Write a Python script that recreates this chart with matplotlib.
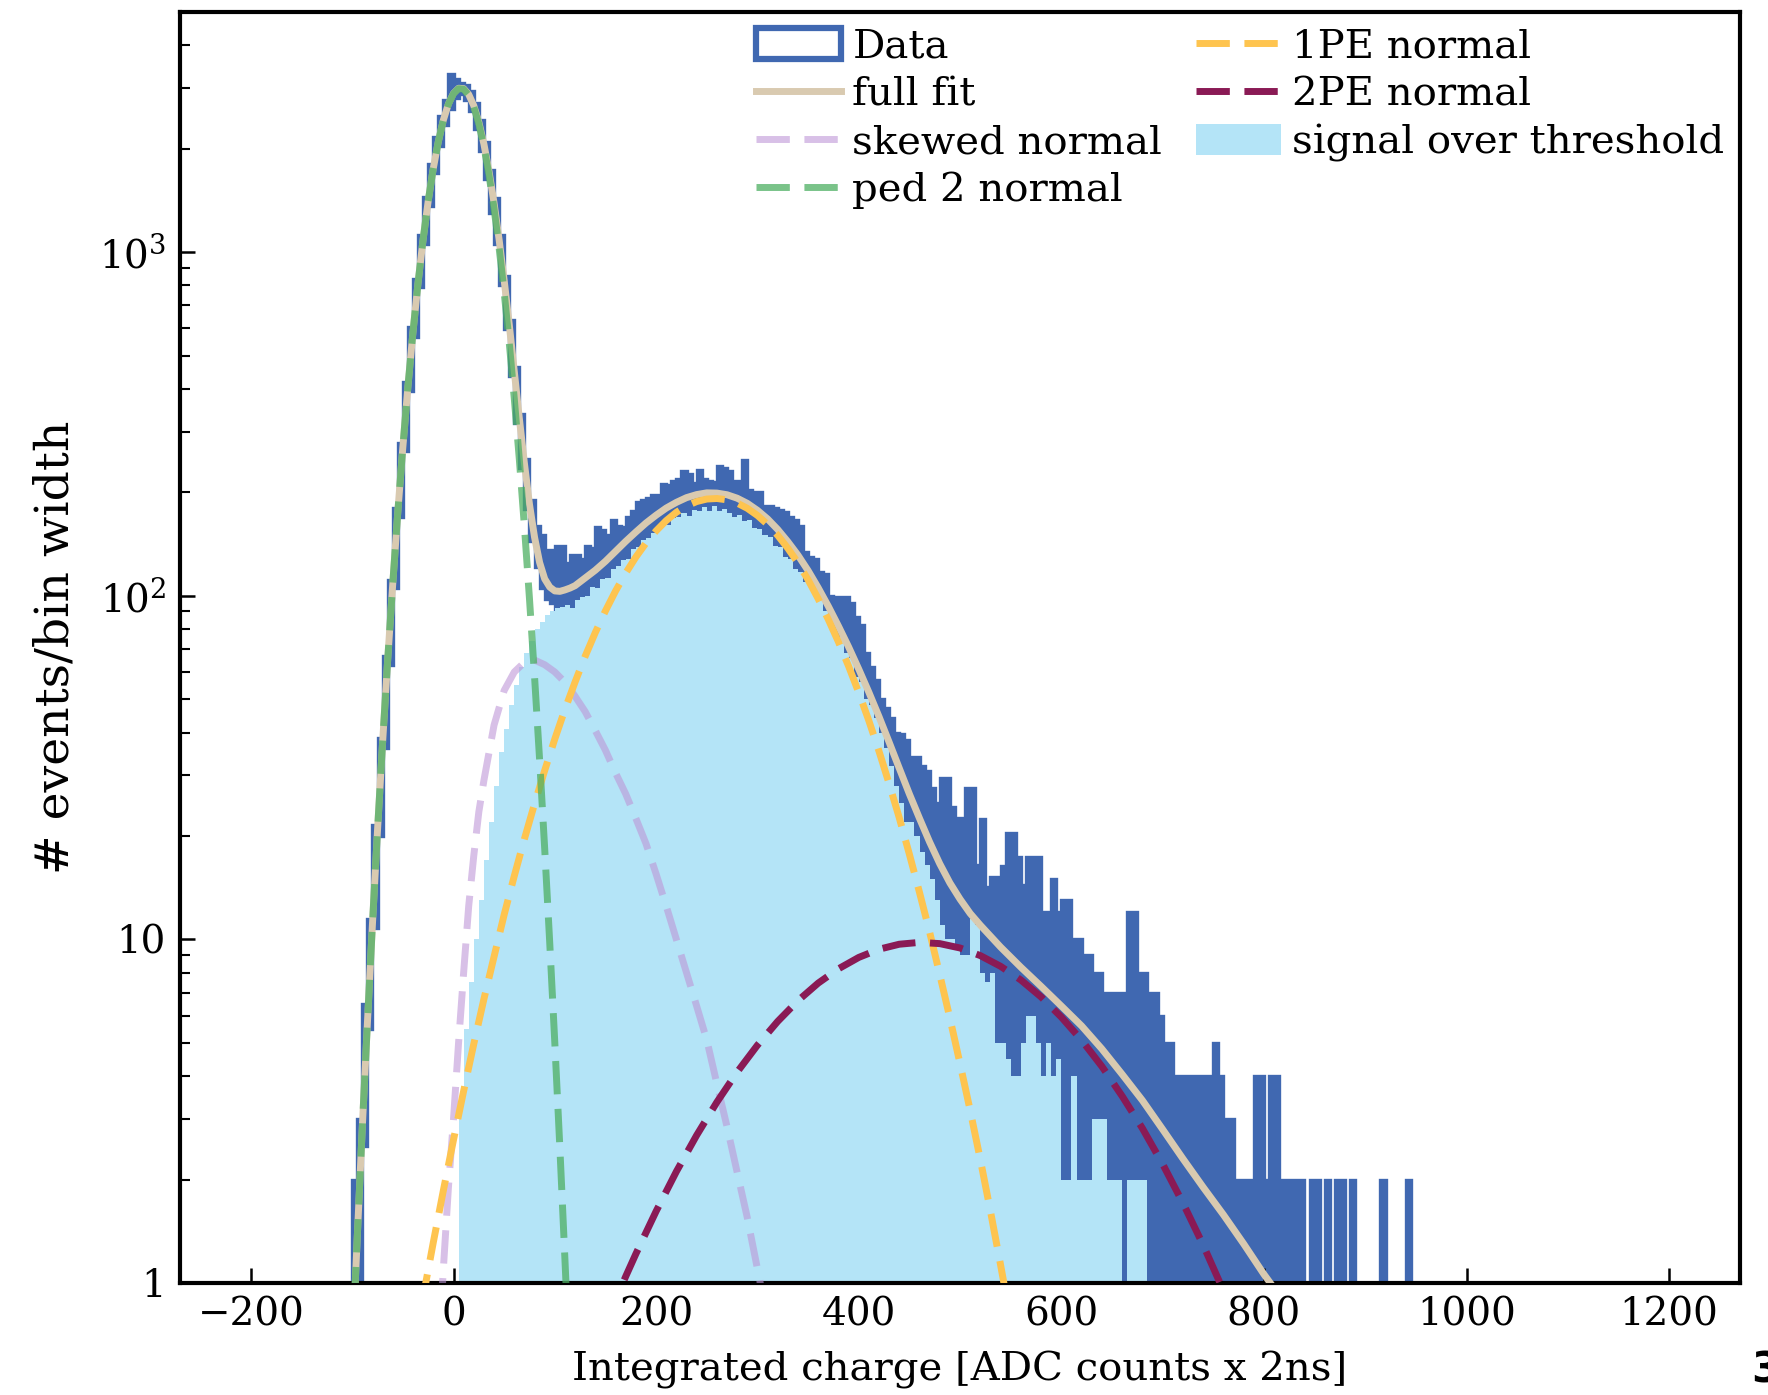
## Charge spectrum with fit components (log scale)

import numpy as np
import matplotlib.pyplot as plt
from matplotlib.patches import Patch

## data

# data histogram, 5-unit bins from -110 to 960: upper envelope and lower edge of the band
hist_edges = np.arange(-110, 965, 5)
data_high = [
    1, 1, 2, 3, 6.5, 11.5, 21.5, 38.5, 67, 111,
    180, 279, 418, 604, 838, 1123, 1450, 1803, 2160, 2495,
    2780, 3300, 3200, 3100, 3070, 2947, 2726, 2432, 2090, 1730,
    1434, 1122, 854, 636, 464, 338, 250, 190, 160, 150,
    136, 136, 140, 140, 124.5, 131, 131, 128, 140, 138,
    159, 155, 150, 166, 160, 159, 170, 176, 188, 190,
    192, 196, 197, 212, 210, 216, 218, 230, 226, 213,
    232, 219, 216, 214, 238, 236, 230, 216, 216, 248,
    203, 201, 201, 182, 182, 180, 178, 175, 170, 166,
    160, 134, 130, 128, 117.5, 116, 100, 99, 99, 99,
    95, 87, 82, 68, 62, 57, 50, 47, 44, 40,
    39.6, 38, 34, 34, 32, 31, 27.5, 25, 29.5, 29.5,
    24.3, 22.5, 22.5, 27.6, 27.6, 16.5, 22.4, 14.2, 15.2, 15.2,
    16.3, 20.4, 20.4, 17.4, 14.4, 17.4, 17.4, 17.4, 12, 12,
    15, 12, 13, 13, 10, 10, 9, 9, 8, 8,
    7, 7, 7, 7, 7, 12, 12, 8, 8, 7,
    7, 6, 5, 5, 4, 4, 4, 4, 4, 4,
    4, 4, 5, 4, 3, 3, 2, 2, 2, 2,
    4, 4, 2, 4, 4, 2, 2, 2, 2, 2,
    1, 2, 2, 1, 2, 1, 2, 2, 1, 2,
    1, 1, 1, 1, 1, 2, 1, 1, 1, 1,
    2, 1, 1, 1,
]
# lower edge of the data band in the pedestal region (-110 .. 100)
ped_low = [
    1, 1, 1, 1, 2.5, 5.5, 10.8, 20, 36, 63,
    105, 170, 263, 394, 568, 790, 1057, 1365, 1697, 2034,
    2350, 2616, 2806, 2890, 2775, 2568, 2290, 1968, 1630, 1300,
    1056, 804, 598, 436, 318, 236, 179, 144, 121, 105,
    98, 95,
]
data_low = np.concatenate([ped_low, np.ones(len(data_high) - len(ped_low))])

# signal over threshold, 5-unit bins from 5 to 695
sig_edges = np.arange(5, 700, 5)
signal = [
    3.5, 5.5, 7.5, 10, 13, 17, 22, 28, 35, 41,
    48, 55, 62, 68, 74, 80, 84, 88, 90, 92,
    93, 94, 92, 97, 99, 100, 106, 105, 112, 113,
    120, 122, 127, 128, 137, 139, 145, 147, 152, 155,
    163, 161, 168, 170, 174, 171, 178, 176, 181, 177,
    182, 176, 179, 174, 170, 172, 165, 166, 158, 156,
    150, 148, 140, 139, 130, 128, 120, 117, 110, 107,
    100, 97, 90, 86, 78, 76, 68, 66, 58, 56,
    50, 48, 44, 40, 36, 32, 28, 25, 22, 22,
    20, 18, 16.5, 15, 13, 11, 10, 10, 9.5, 9,
    9, 11.5, 11, 8, 7.5, 8, 5, 5, 4.5, 4,
    4, 5, 6, 6, 5, 4, 5, 4, 4.5, 2,
    2, 4, 2, 2, 2, 3, 3, 3, 2, 2,
    2, 1, 2, 2, 2, 2, 1, 1,
]

# fit curves
fit_x = [-110, -105, -100, -95, -90, -85, -80, -75, -70, -65, -60, -55, -50, -45, -40,
         -35, -30, -25, -20, -15, -10, -5, 0, 5, 10, 15, 20, 25, 30, 35, 40, 45, 50,
         55, 60, 65, 70, 75, 80, 85, 90, 95, 100, 105, 110, 115,
         120, 130, 140, 150, 160, 170, 180, 190, 200, 210, 220, 230, 240, 250, 260,
         270, 280, 290, 300, 310, 320, 330, 340, 350, 360, 370, 380, 390, 400, 410,
         420, 430, 440, 450, 460, 470, 480, 490, 500, 510, 520,
         540, 560, 580, 600, 620, 640, 660, 680, 700, 720, 740, 760, 780, 800, 820]
fit_y = [0.12, 0.28, 0.63, 1.36, 2.85, 5.7, 11.1, 20.8, 37.4, 64.9, 108, 175, 271, 406, 586,
         814, 1090, 1407, 1750, 2097, 2425, 2701, 2899, 2999, 2992, 2878, 2670, 2390, 2065, 1723,
         1392, 1089, 829, 617, 450, 328, 243, 184.5, 148, 125, 112, 106, 103.3, 103, 104, 105.3,
         107, 112.7, 118.7, 126, 134.7, 144, 153.3, 162.8, 171.6, 180, 187, 193, 197, 199.3, 199,
         196.8, 192.3, 185.8, 177.3, 167.4, 156, 143.7, 131.3, 118.4, 105.5, 93.2, 81.6, 71, 61.2, 52.4,
         44.5, 37.5, 31.5, 26.5, 22.5, 19.2, 16.6, 14.6, 13.1, 11.9, 11.0,
         9.5, 8.3, 7.3, 6.4, 5.6, 4.8, 4.05, 3.4, 2.8, 2.3, 1.9, 1.58, 1.3, 1.06, 0.88]

skew_x = [-15, -10, -5, 0, 5, 10, 15, 20, 25, 30, 40, 50, 60, 70, 80, 90, 100, 110, 120,
          130, 140, 150, 160, 170, 180, 190, 200, 210, 220, 230, 240, 250, 260, 270, 280,
          290, 300, 310]
skew_y = [0.6, 1.1, 1.9, 3.0, 5.0, 8.0, 12.5, 17.5, 23.5, 29, 42, 53, 60, 64, 65, 63, 60, 56, 51,
          46, 40.5, 35.5, 30.5, 26.5, 22.5, 19, 15.5, 12.5, 10, 8, 6.4, 5.1, 3.8, 2.85, 2.1,
          1.55, 1.1, 0.78]

ped_x = [-110, -105, -100, -95, -90, -85, -80, -75, -70, -65, -60, -55, -50, -45, -40, -35,
         -30, -25, -20, -15, -10, -5, 0, 5, 10, 15, 20, 25, 30, 35, 40, 45, 50, 55, 60, 65,
         70, 75, 80, 85, 90, 95, 100, 105, 110, 115]
ped_y = [0.12, 0.28, 0.63, 1.36, 2.85, 5.7, 11.1, 20.8, 37.4, 64.9, 108, 175, 271, 406, 586, 814,
         1090, 1407, 1750, 2097, 2422, 2697, 2893, 2991, 2980, 2861, 2647, 2361, 2029, 1680, 1341,
         1031, 764, 546, 375, 249, 159, 98, 58.2, 33.3, 18.4, 9.76, 5.0, 2.47, 1.17, 0.54]

pe1_x = [-40, -30, -20, -10, 0, 10, 20, 30, 40, 50, 60, 70, 80, 90, 100, 110, 120, 130, 140,
         150, 160, 170, 180, 190, 200, 210, 220, 230, 240, 250, 260, 270, 280, 290, 300, 310,
         320, 330, 340, 350, 360, 370, 380, 390, 400, 410, 420, 430, 440, 450, 460, 470, 480,
         490, 500, 510, 520, 530, 540, 550]
pe1_y = [0.62, 0.91, 1.31, 1.86, 2.61, 3.62, 4.96, 6.7, 8.9, 11.8, 15.3, 19.6, 24.8, 31.0, 38.3,
         46.7, 56.1, 66.7, 78.2, 90.4, 103.3, 116.4, 129.6, 142.4, 154.5, 165.5, 175, 182.5, 188,
         191.2, 191.9, 190.2, 186.1, 179.7, 171.3, 161.3, 150, 137.5, 124.7, 111.3, 98.0, 85.3,
         73.4, 62.4, 52.3, 43.3, 35.3, 28.4, 22.6, 17.7, 13.7, 10.5, 7.9, 5.9, 4.35, 3.18, 2.29,
         1.62, 1.13, 0.78]

pe2_x = [150, 160, 170, 180, 200, 220, 240, 260, 280, 300, 320, 340, 360, 380, 400, 420, 440,
         460, 480, 500, 520, 540, 560, 580, 600, 620, 640, 660, 680, 700, 720, 740, 760, 780]
pe2_y = [0.76, 0.89, 1.045, 1.215, 1.617, 2.11, 2.69, 3.36, 4.11, 4.92, 5.77, 6.63, 7.46, 8.21,
         8.86, 9.36, 9.68, 9.8, 9.72, 9.44, 8.97, 8.35, 7.62, 6.8, 5.94, 5.09, 4.27, 3.5, 2.82,
         2.22, 1.71, 1.29, 0.95, 0.69]

xticks = [-200, 0, 200, 400, 600, 800, 1000, 1200]
yticks = [1, 10, 100, 1000]
ytick_labels = ['1', '10', r'$10^2$', r'$10^3$']

## style

c_data = '#4068b1'
c_sig = '#b4e4f7'
c_fit = '#d9cab0'
c_skew = '#be96d7'
c_ped = '#4daf62'
c_pe1 = '#fec44f'
c_pe2 = '#8a1a55'
dash = (0, (4.8, 2.1))
lw = 5

plt.rcParams['font.family'] = 'DejaVu Serif'
plt.rcParams['mathtext.fontset'] = 'dejavuserif'

fig = plt.figure(figsize=(17.68, 13.95), dpi=100)
ax = fig.add_axes([0.1018, 0.0803, 0.8824, 0.9111])
ax.set_yscale('log')

ax.stairs(data_high, hist_edges, baseline=data_low, fill=True,
          facecolor=c_data, edgecolor=c_data, linewidth=2.4, zorder=1)
ax.stairs(signal, sig_edges, baseline=1, fill=True, facecolor=c_sig,
          edgecolor='none', linewidth=0, zorder=2)

l_fit, = ax.plot(fit_x, fit_y, color=c_fit, lw=lw, zorder=3)
l_skew, = ax.plot(skew_x, skew_y, color=c_skew, lw=lw, ls=dash, alpha=0.6, zorder=4)
l_pe1, = ax.plot(pe1_x, pe1_y, color=c_pe1, lw=lw, ls=dash, zorder=4)
l_pe2, = ax.plot(pe2_x, pe2_y, color=c_pe2, lw=lw, ls=dash, zorder=4)
l_ped, = ax.plot(ped_x, ped_y, color=c_ped, lw=lw, ls=dash, alpha=0.75, zorder=5)

ax.set_xlim(-270, 1270)
ax.set_ylim(1, 5000)

ax.set_xticks(xticks)
ax.set_yticks(yticks)
ax.set_yticklabels(ytick_labels)
ax.tick_params(axis='both', which='major', direction='in', length=11, width=1.8,
               labelsize=28, pad=10)
ax.tick_params(axis='y', which='minor', direction='in', length=7, width=1.5)
for s in ax.spines.values():
    s.set_linewidth(3)

ax.set_xlabel('Integrated charge [ADC counts x 2ns]', fontsize=29)
ax.set_ylabel('# events/bin width', fontsize=34)
ax.xaxis.set_label_coords(0.5, -0.0685)
ax.xaxis.label.set_va('center')
ax.yaxis.set_label_coords(-0.0795, 0.5)
ax.yaxis.label.set_va('center')

h_data = Patch(facecolor='white', edgecolor=c_data, linewidth=4.5)
h_sig = Patch(facecolor=c_sig, edgecolor='none')
handles = [h_data, l_fit, l_skew, l_ped, l_pe1, l_pe2, h_sig]
labels = ['Data', 'full fit', 'skewed normal', 'ped 2 normal', '1PE normal', '2PE normal',
          'signal over threshold']
ax.legend(handles, labels, loc='upper right', ncol=2, frameon=False, fontsize=29,
          handlelength=2.1, handleheight=0.8, handletextpad=0.28, columnspacing=0.84,
          labelspacing=0.26, borderaxespad=0.2, borderpad=0.2)

fig.text(0.9904, 0.0179, '3', fontsize=30, fontweight='bold', family='DejaVu Sans', va='center')

plt.savefig('out.png', dpi=100)
